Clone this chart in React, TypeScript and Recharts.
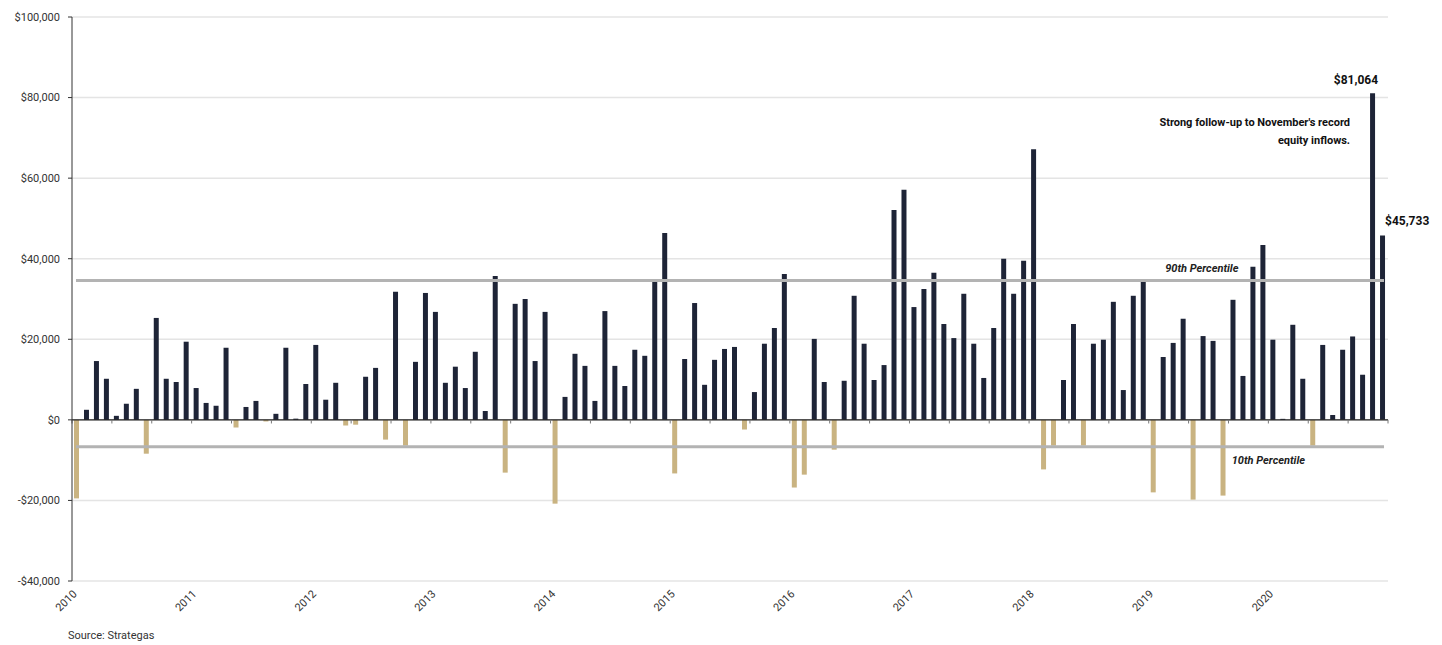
import React from "react";
import {
  BarChart,
  Bar,
  Cell,
  XAxis,
  YAxis,
  CartesianGrid,
  ReferenceLine,
  ReferenceDot,
  LabelList,
} from "recharts";

// Monthly net equity fund flows ($mm), Jan..Dec of each year
const YEARS = ["2010", "2011", "2012", "2013", "2014", "2015", "2016", "2017", "2018", "2019", "2020"];

const FLOWS_2010 = [-19500, 2500, 14600, 10200, 1000, 4000, 7700, -8400, 25300, 10200, 9400, 19400];
const FLOWS_2011 = [7900, 4200, 3500, 17900, -1900, 3200, 4700, -400, 1500, 17900, 300, 8900];
const FLOWS_2012 = [18600, 5000, 9200, -1400, -1200, 10700, 12900, -4900, 31800, -6400, 14400, 31500];
const FLOWS_2013 = [26800, 9200, 13200, 7900, 16900, 2200, 35700, -13100, 28800, 30000, 14600, 26800];
const FLOWS_2014 = [-20800, 5700, 16400, 13400, 4700, 27000, 13400, 8400, 17400, 15900, 34200, 46400];
const FLOWS_2015 = [-13300, 15100, 29000, 8700, 14900, 17600, 18100, -2400, 6900, 18900, 22800, 36200];
const FLOWS_2016 = [-16800, -13600, 20100, 9400, -7400, 9700, 30800, 18900, 9900, 13600, 52100, 57100];
const FLOWS_2017 = [28000, 32500, 36500, 23800, 20300, 31300, 18900, 10400, 22800, 40000, 31300, 39500];
const FLOWS_2018 = [67200, -12300, -6400, 9900, 23800, -6400, 18900, 19900, 29300, 7400, 30800, 34500];
const FLOWS_2019 = [-18000, 15600, 19100, 25100, -19800, 20800, 19600, -18800, 29800, 10900, 38000, 43400];
const FLOWS_2020 = [19900, 250, 23600, 10200, -6400, 18600, 1200, 17400, 20700, 11200, 81064, 45733];

const FLOWS_BY_YEAR = [
  FLOWS_2010, FLOWS_2011, FLOWS_2012, FLOWS_2013, FLOWS_2014, FLOWS_2015,
  FLOWS_2016, FLOWS_2017, FLOWS_2018, FLOWS_2019, FLOWS_2020,
];

const PCT_90 = 34600;
const PCT_10 = -6700;

const Y_TICKS = [-40000, -20000, 0, 20000, 40000, 60000, 80000, 100000];
const YEAR_TICKS = [0, 12, 24, 36, 48, 60, 72, 84, 96, 108, 120];
const MINOR_TICKS = Array.from({ length: 34 }, (_, i) => i * 4);

const CALLOUT_MONTHS = ["2020-11", "2020-12"];
const CALLOUT_TEXT = ["$81,064", "$45,733"];
const NOTE_LINES = ["Strong follow-up  to November's record", "equity inflows."];

const NAVY = "#1e2437";
const TAN = "#c9b381";
const FONT = "Roboto, 'Open Sans', sans-serif";

const data = FLOWS_BY_YEAR.flatMap((vals, yi) =>
  vals.map((flow, mi) => {
    const month = `${YEARS[yi]}-${String(mi + 1).padStart(2, "0")}`;
    const ci = CALLOUT_MONTHS.indexOf(month);
    return {
      month,
      x: yi * 12 + mi + 0.5,
      flow,
      callout: ci >= 0 ? CALLOUT_TEXT[ci] : undefined,
    };
  })
);

const fmtMoney = (v: number) =>
  (v < 0 ? "-$" : "$") + Math.abs(v).toLocaleString("en-US");

const renderCallout = (props: any) => {
  const { x, y, width, value } = props;
  if (!value) return null;
  if (value === CALLOUT_TEXT[0]) {
    return (
      <g fontFamily={FONT} fill="#111" fontWeight={700}>
        <text x={x + width + 3} y={y - 9} textAnchor="end" fontSize={12}>
          {value}
        </text>
        <text x={x - 20} y={y + 33} textAnchor="end" fontSize={11}>
          {NOTE_LINES[0]}
        </text>
        <text x={x - 20} y={y + 51} textAnchor="end" fontSize={11}>
          {NOTE_LINES[1]}
        </text>
      </g>
    );
  }
  return (
    <text x={x + width} y={y - 11} textAnchor="start" fontSize={12} fontWeight={700} fill="#111" fontFamily={FONT}>
      {value}
    </text>
  );
};

const pctLabel = (text: string, anchor: "end" | "middle", dy: number) => (props: any) => {
  const { viewBox } = props;
  return (
    <text
      x={viewBox.x}
      y={viewBox.y + dy}
      textAnchor={anchor}
      fontSize={11}
      fontStyle="italic"
      fontWeight={700}
      fill="#222"
      fontFamily={FONT}
    >
      {text}
    </text>
  );
};

export default function App() {
  return (
    <div style={{ fontFamily: FONT }}>
      <BarChart
        width={1434}
        height={610}
        data={data}
        margin={{ top: 9, right: 54, bottom: 0, left: 0 }}
        style={{ fontFamily: FONT }}
      >
        <CartesianGrid vertical={false} stroke="#e4e4e4" strokeWidth={1.5} />
        <XAxis
          type="number"
          dataKey="x"
          domain={[0, 132]}
          ticks={YEAR_TICKS}
          interval={0}
          tickFormatter={(v: number) => YEARS[v / 12] ?? ""}
          axisLine={false}
          tickLine={false}
          angle={-45}
          textAnchor="end"
          height={37}
          tick={{ fontSize: 11, fill: "#333" }}
        />
        <YAxis
          domain={[-40000, 100000]}
          ticks={Y_TICKS}
          interval={0}
          width={64}
          tickFormatter={fmtMoney}
          axisLine={{ stroke: "#333" }}
          tickLine={{ stroke: "#333" }}
          tickSize={4}
          tickMargin={8}
          tick={{ fontSize: 11, fill: "#333" }}
        />
        <Bar dataKey="flow" barSize={5} isAnimationActive={false}>
          {data.map((d) => (
            <Cell key={d.month} fill={d.flow < 0 ? TAN : NAVY} />
          ))}
          <LabelList dataKey="callout" content={renderCallout} />
        </Bar>
        <ReferenceLine y={0} stroke="#222" strokeWidth={1.2} />
        {MINOR_TICKS.map((t) => (
          <ReferenceLine
            key={t}
            segment={[{ x: t, y: 0 }, { x: t, y: -900 }]}
            stroke="#777"
            strokeWidth={1}
          />
        ))}
        <ReferenceLine
          segment={[{ x: 0.4, y: PCT_90 }, { x: 131.6, y: PCT_90 }]}
          stroke="#b3b3b3"
          strokeWidth={3}
        />
        <ReferenceLine
          segment={[{ x: 0.4, y: PCT_10 }, { x: 131.6, y: PCT_10 }]}
          stroke="#b3b3b3"
          strokeWidth={3}
        />
        <ReferenceDot x={117} y={PCT_90} r={0} stroke="none" label={pctLabel("90th Percentile", "end", -8)} />
        <ReferenceDot x={120} y={PCT_10} r={0} stroke="none" label={pctLabel("10th Percentile", "middle", 17)} />
      </BarChart>
      <div style={{ marginLeft: 60, marginTop: 11, fontSize: 11, lineHeight: "14px", color: "#333" }}>
        Source: Strategas
      </div>
    </div>
  );
}
